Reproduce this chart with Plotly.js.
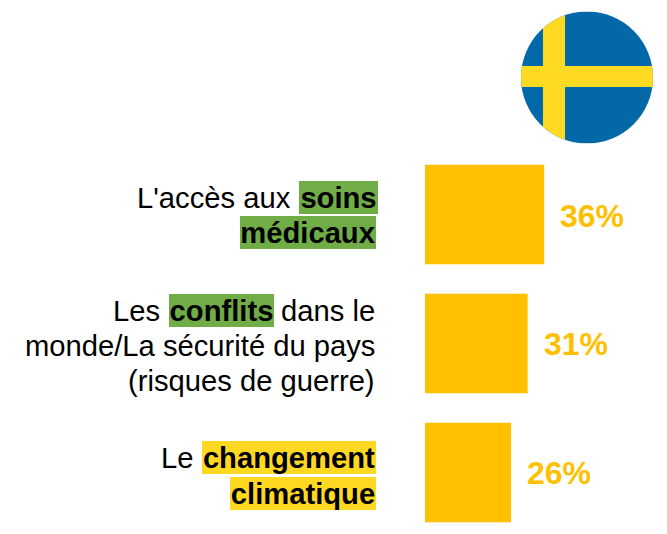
<!DOCTYPE html>
<html><head><meta charset="utf-8">
<script src="https://cdn.plot.ly/plotly-3.0.1.min.js"></script>
<style>html,body{margin:0;padding:0;background:#fff}</style></head>
<body><div id="chart" style="width:667px;height:534px"></div>
<script>
const categories = ["soins médicaux", "conflits", "changement climatique"];
const values = [36, 31, 26];
const valueLabels = ["36%", "31%", "26%"];
const barColor = "#FFC000";
const green = "#70AD47";
const yellow = "#FFD822";
// [right edge px, centre y px, text, bold, highlight, highlight width px]
const textRuns = [
  [291, 197.5, "L'accès aux", false, null, 0],
  [378, 197.5, "soins", true, green, 79],
  [376, 232.5, "médicaux", true, green, 136],
  [160, 310.5, "Les", false, null, 0],
  [274, 310.5, "conflits", true, green, 105],
  [375, 310.5, "dans le", false, null, 0],
  [375, 345.5, "monde/La sécurité du pays", false, null, 0],
  [375, 381, "(risques de guerre)", false, null, 0],
  [193, 457.5, "Le", false, null, 0],
  [376, 457.5, "changement", true, yellow, 174],
  [376, 493.5, "climatique", true, yellow, 146]
];
const W = 667, H = 534;
const flag = '<svg xmlns="http://www.w3.org/2000/svg" width="132" height="132" viewBox="0 0 132 132">' +
  '<clipPath id="c"><circle cx="66" cy="66" r="66"/></clipPath><g clip-path="url(#c)">' +
  '<rect width="132" height="132" fill="#0268A8"/>' +
  '<rect x="22" width="22" height="132" fill="#FFDA22"/>' +
  '<rect y="54.5" width="132" height="21" fill="#FFDA22"/></g></svg>';
const textAnn = textRuns.map(r => {
  const a = {
    xref: "paper", yref: "paper", x: r[0] / W, y: 1 - r[1] / H,
    xanchor: "right", yanchor: "middle", showarrow: false,
    text: r[3] ? "<b>" + r[2] + "</b>" : r[2],
    borderpad: 0, borderwidth: 0,
    font: {family: "Liberation Sans, Arial, sans-serif", size: 29.2, color: "#000"}
  };
  if (r[4]) { a.bgcolor = r[4]; a.width = r[5]; a.height = 33; a.align = "center"; }
  return a;
});
const valAnn = values.map((v, i) => ({
  xref: "x", yref: "y", x: v, y: i, xanchor: "left", yanchor: "middle",
  xshift: 14, yshift: -1, showarrow: false,
  text: "<b>" + valueLabels[i] + "</b>",
  font: {family: "Liberation Sans, Arial, sans-serif", size: 32, color: barColor}
}));
Plotly.newPlot("chart", [{
  type: "bar", orientation: "h",
  x: values, y: categories.map((c, i) => i), text: categories, textposition: "none",
  width: 0.77, marker: {color: barColor}, hoverinfo: "skip"
}], {
  width: W, height: H, margin: {l: 0, r: 0, t: 0, b: 0},
  paper_bgcolor: "#fff", plot_bgcolor: "#fff", showlegend: false,
  xaxis: {domain: [425 / W, 1], range: [0, 73.1], visible: false, fixedrange: true},
  yaxis: {range: [2.477, -1.663], visible: false, fixedrange: true},
  annotations: textAnn.concat(valAnn),
  images: [{
    source: "data:image/svg+xml;charset=utf-8," + encodeURIComponent(flag),
    xref: "paper", yref: "paper", x: 521 / W, y: 1 - 11.5 / H,
    sizex: 132 / W, sizey: 132 / H, xanchor: "left", yanchor: "top", layer: "above"
  }]
}, {displayModeBar: false, staticPlot: true});
</script></body></html>
